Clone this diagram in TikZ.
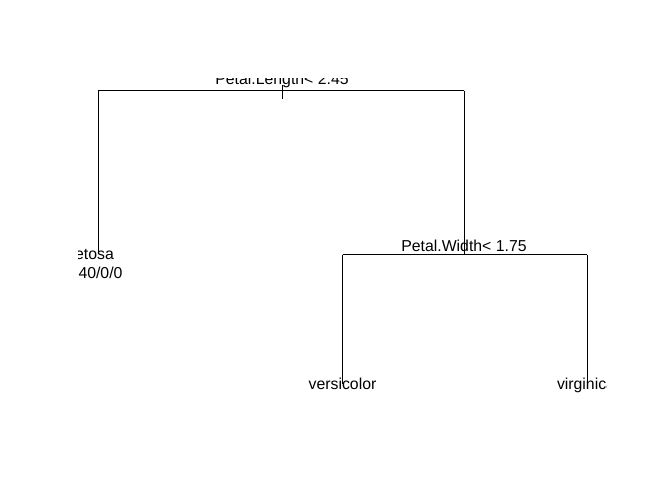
\documentclass[tikz,border=0pt]{standalone}
\usepackage{fontspec}
\setmainfont{Liberation Sans}
\usetikzlibrary{positioning}

\begin{document}
\begin{tikzpicture} [x=0.03cm, y=-0.03cm, line width=0.8pt,
	every node/.style={inner sep=0pt, font=\fontsize{13.5}{16}\selectfont},
	split/.style={anchor=base},
	leaf/.style={anchor=base}]

\useasboundingbox (0,0) rectangle (647,493);

\begin{scope}
\clip (78,78) rectangle (606,430);

% split points
\coordinate (n0)	at (282,90.5);
\coordinate (n0l)	at (98,90.5);
\coordinate (n0r)	at (464,90.5);
\coordinate (n0t)	at (282,85);
\coordinate (n0b)	at (282,99);
\coordinate (n2)	at (464,254.5);
\coordinate (n2l)	at (342.5,254.5);
\coordinate (n2r)	at (587,254.5);
% leaf ends
\coordinate (n1)	at (98,253);
\coordinate (n3)	at (342.5,384);
\coordinate (n4)	at (587,382);

\node [split]	(s0) at (282,84.5)	{Petal.Length< 2.45};
\node [split]	(s2) at (464,251.5)	{Petal.Width< 1.75};
\node [leaf]	(l1) at (90.5,259)	{setosa};
\node [leaf]	(c1) at (100.5,278)	{40/0/0};
\node [leaf]	(l3) at (342.5,389)	{versicolor};
\node [leaf]	(l4) at (586,389)	{virginica};

\draw
		(n0t) -- (n0b)
		(n0l) -- (n0r)
		(n0l) -- (n1)
		(n0r) -- (n2)
		(n2l) -- (n2r)
		(n2l) -- (n3)
		(n2r) -- (n4)
		;
\end{scope}

\end{tikzpicture}
\end{document}
